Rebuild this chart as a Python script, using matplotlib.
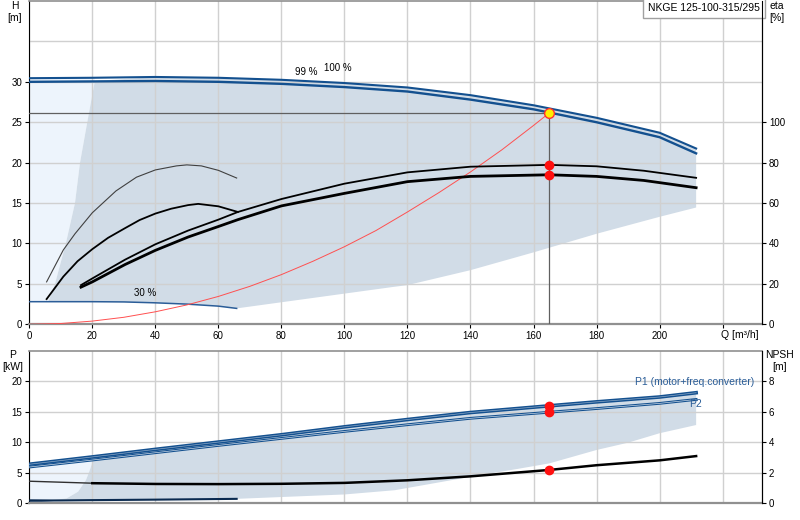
import matplotlib
matplotlib.use('Agg')
import matplotlib.pyplot as plt
import numpy as np

plt.rcParams['font.family'] = ['Liberation Sans', 'DejaVu Sans']
plt.rcParams['font.size'] = 7

BLUE = '#13508f'
GRAY_FILL = '#d1dce7'
LIGHT_FILL = '#edf4fc'
GRID = '#d0d0d0'

# ---- upper chart data (Q in m3/h, H in m, eta in %) ----
q_max = [0, 20, 40, 60, 80, 100, 120, 140, 160, 180, 200, 211.6]
h_100 = [30.45, 30.5, 30.6, 30.5, 30.25, 29.85, 29.3, 28.35, 27.1, 25.55, 23.7, 21.75]
h_99 = [30.0, 30.05, 30.1, 30.0, 29.75, 29.35, 28.8, 27.8, 26.6, 25.0, 23.15, 21.15]

q_30 = [0, 6, 20, 30, 40, 50, 60, 65.8]
h_30 = [2.8, 2.8, 2.8, 2.77, 2.66, 2.5, 2.25, 1.97]

q_left = [6.0, 8.15, 11.6, 14.5, 16.1, 18.4, 20.8]
h_left = [2.8, 5.0, 10.0, 15.0, 20.0, 25.0, 30.1]

q_low = [65.8, 115, 120, 140, 160, 180, 200, 211.6]
h_low = [1.97, 4.6, 4.85, 6.7, 8.9, 11.2, 13.3, 14.45]

q_sys = [0, 10, 20, 30, 40, 50, 60, 70, 80, 90, 100, 110, 120, 130, 140, 150, 160, 165]
h_sys = [0, 0.1, 0.4, 0.87, 1.55, 2.4, 3.45, 4.7, 6.15, 7.8, 9.6, 11.6, 13.9, 16.3, 18.85, 21.6, 24.6, 26.15]

q_eta30 = [5.5, 10.8, 14.5, 20, 27.5, 34, 40, 46.7, 50, 54.6, 60, 65.8]
eta30_pump = [21, 36.8, 44.8, 55.2, 66, 72.8, 76.4, 78.4, 78.9, 78.4, 76.2, 72.4]
q_eta30t = [5.5, 10.8, 15.3, 20, 25, 30.4, 35, 40, 45, 50.4, 53.6, 60, 66.2]
eta30_total = [12.5, 23.6, 31.2, 37.2, 42.8, 47.6, 51.6, 54.8, 57.2, 59, 59.6, 58.4, 55.6]

q_eta = [16.4, 20, 30.4, 40, 50.4, 60, 66.2, 80, 100, 120, 140, 165, 180, 195, 211.6]
eta_pump = [19.4, 22.7, 32, 39.6, 46.4, 51.8, 55.6, 62.0, 69.6, 75.2, 78.0, 78.9, 78.2, 76, 72.5]
eta_total = [18.4, 21, 29.6, 36.6, 43.2, 48.4, 51.8, 58.6, 64.8, 70.6, 73.2, 74, 73.2, 71.2, 67.6]

q_op = 165
h_op = 26.15
eta_op = [78.9, 74.0]

# ---- lower chart data (P in kW, NPSH in m) ----
q_p = [0, 20, 40, 60, 80, 100, 120, 140, 165, 180, 200, 211.6]
p1 = [6.36, 7.56, 8.8, 10.0, 11.2, 12.5, 13.7, 14.85, 15.95, 16.6, 17.4, 18.1]
p2 = [5.9, 7.05, 8.25, 9.45, 10.6, 11.75, 12.85, 13.9, 14.9, 15.5, 16.35, 17.0]

q_p30 = [0, 10, 20, 40, 65.8]
p_30 = [0.4, 0.42, 0.47, 0.55, 0.68]

q_pleft = [6.6, 11.9, 15.5, 18.0, 19.2, 20.1, 20.4]
p_left = [0.4, 0.77, 1.86, 3.78, 5.4, 6.8, 7.6]

q_plow = [65.8, 81, 100, 116, 140, 155, 165, 180, 190, 200, 211.6]
p_low = [0.68, 1.0, 1.4, 2.1, 4.3, 5.6, 6.5, 8.7, 9.9, 11.45, 12.8]

q_npsh = [0, 20, 40, 60, 80, 100, 120, 140, 165, 180, 200, 211.6]
npsh = [1.43, 1.30, 1.25, 1.24, 1.26, 1.32, 1.49, 1.75, 2.17, 2.48, 2.8, 3.08]

p_op = [15.95, 14.9]
npsh_op = 2.17


def style_axes(a, yticks):
    a.set_xlim(0, 232.5)
    a.set_xticks(np.arange(0, 221, 20))
    a.set_yticks(yticks)
    a.grid(True, color=GRID, linewidth=1)
    a.set_axisbelow('line')
    a.tick_params(axis='both', labelsize=7, length=3, width=0.8, pad=2)
    a.spines['left'].set_color('black')
    a.spines['top'].set_color('#909090')
    a.spines['bottom'].set_color('#909090')
    a.spines['bottom'].set_linewidth(1.6)
    a.spines['top'].set_linewidth(1.2)


fig = plt.figure(figsize=(8, 5.2), dpi=100)

# ================= upper chart =================
ax = fig.add_axes([0.0366, 0.3763, 0.9159, 0.6218])
ax.set_ylim(0, 40)
style_axes(ax, np.arange(0, 31, 5))
ax.axhline(35, color=GRID, lw=1, zorder=1.5)
ax.set_xticklabels([str(v) for v in range(0, 201, 20)] + [''])

top_left = np.interp(q_left[-1], q_max, h_100)
ax.fill([0, 0, q_left[-1]] + q_left[::-1], [h_30[0], h_100[0], top_left] + h_left[::-1],
        color=LIGHT_FILL, lw=0, zorder=1)

sel = [i for i, q in enumerate(q_max) if q > q_left[-1]]
poly_q = q_left + [q_max[i] for i in sel] + [q_low[-1]] + q_low[::-1][1:] + [q for q in q_30[::-1] if q > q_left[0]] + [q_left[0]]
poly_h = h_left + [h_100[i] for i in sel] + [h_low[-1]] + h_low[::-1][1:] + [h for q, h in zip(q_30[::-1], h_30[::-1]) if q > q_left[0]] + [h_left[0]]
ax.fill(poly_q, poly_h, color=GRAY_FILL, lw=0, zorder=1)

ax.plot(q_max, h_100, color=BLUE, lw=1.5, zorder=3)
ax.plot(q_max, h_99, color=BLUE, lw=1.7, zorder=3)
ax.plot(q_30, h_30, color='#2b5d98', lw=1.1, zorder=3)

ax.plot(q_sys, h_sys, color='#ff5050', lw=0.7, zorder=3)
ax.plot([0, q_op], [h_op, h_op], color='#606060', lw=0.9, zorder=3)
ax.plot([q_op, q_op], [0, h_op], color='#606060', lw=0.9, zorder=3)
ax.plot([q_op], [h_op], 'o', ms=7, mfc='#ffee00', mec='#ff3030', mew=1, zorder=6)

ax.text(88, 31.2, '99 %', ha='center', va='center', fontsize=7)
ax.text(98, 31.7, '100 %', ha='center', va='center', fontsize=7)
ax.text(36.7, 3.9, '30 %', ha='center', va='center', fontsize=7)

ax.text(0.997, 0.993, 'NKGE 125-100-315/295', transform=ax.transAxes, ha='right', va='top',
        fontsize=7.5, zorder=10,
        bbox=dict(boxstyle='square,pad=0.5', fc='white', ec='#a0a0a0', lw=1))

ax2 = ax.twinx()
ax2.set_ylim(0, 160)
ax2.set_yticks(np.arange(0, 101, 20))
ax2.tick_params(axis='y', labelsize=7, length=3, width=0.8, pad=2)
ax2.spines['right'].set_color('black')
for s in ['top', 'bottom', 'left']:
    ax2.spines[s].set_visible(False)
ax2.plot(q_eta30, eta30_pump, color='#404040', lw=0.8)
ax2.plot(q_eta30t, eta30_total, color='black', lw=1.3)
ax2.plot(q_eta, eta_pump, color='black', lw=1.3)
ax2.plot(q_eta, eta_total, color='black', lw=2.0)
ax2.plot([q_op, q_op], eta_op, 'o', ms=6, color='#ff1010', zorder=5)

# ================= lower chart =================
axb = fig.add_axes([0.0366, 0.0327, 0.9159, 0.2929])
axb.set_ylim(0, 25)
style_axes(axb, np.arange(0, 21, 5))
axb.set_xticklabels([])
axb.tick_params(axis='x', length=0)

top_pl = np.interp(q_pleft[-1], q_p, p2)
axb.fill([0, 0, q_pleft[-1]] + q_pleft[::-1], [p_30[0], p2[0], top_pl] + p_left[::-1],
         color=LIGHT_FILL, lw=0, zorder=1)

selp = [i for i, q in enumerate(q_p) if q > q_pleft[-1]]
pq = q_pleft + [q_p[i] for i in selp] + [q_plow[-1]] + q_plow[::-1][1:] + [q for q in q_p30[::-1] if q > q_pleft[0]] + [q_pleft[0]]
pp = p_left + [p1[i] for i in selp] + [p_low[-1]] + p_low[::-1][1:] + [p for q, p in zip(q_p30[::-1], p_30[::-1]) if q > q_pleft[0]] + [p_left[0]]
axb.fill(pq, pp, color=GRAY_FILL, lw=0, zorder=1)
axb.fill([0, 0, 10], [0, p_30[0] + 0.25, p_30[1]], color='#8496ae', lw=0, zorder=2)

axb.plot(q_p, p1, color=BLUE, lw=2.6, zorder=3)
axb.plot(q_p, p1, color='#8fa9c6', lw=0.5, zorder=3)
axb.plot(q_p, p2, color=BLUE, lw=2.0, zorder=3)
axb.plot(q_p, p2, color='#c9d6e4', lw=0.5, zorder=3)
axb.plot(q_p30, p_30, color='#0a2a50', lw=1.5, zorder=3)
axb.plot([q_op, q_op], p_op, 'o', ms=6, color='#ff1010', zorder=5)

axb.text(211.2, 19.8, 'P1 (motor+freq.converter)', color='#2a5d98', ha='center', va='center', fontsize=7.5)
axb.text(211.3, 16.2, 'P2', color='#2a5d98', ha='center', va='center', fontsize=7.5)

axb2 = axb.twinx()
axb2.set_ylim(0, 10)
axb2.set_yticks(np.arange(0, 9, 2))
axb2.tick_params(axis='y', labelsize=7, length=3, width=0.8, pad=2)
axb2.spines['right'].set_color('black')
for s in ['top', 'bottom', 'left']:
    axb2.spines[s].set_visible(False)
axb2.plot(q_npsh[:2], npsh[:2], color='#303030', lw=1.0)
axb2.plot(q_npsh[1:], npsh[1:], color='black', lw=1.8)
axb2.plot([q_op], [npsh_op], 'o', ms=6, color='#ff1010', zorder=5)

# axis captions
fig.text(15 / 800, 1 - 6 / 520, 'H', ha='center', va='center', fontsize=7.5)
fig.text(15 / 800, 1 - 18 / 520, '[m]', ha='center', va='center', fontsize=7.5)
fig.text(777 / 800, 1 - 6 / 520, 'eta', ha='center', va='center', fontsize=7.5)
fig.text(777 / 800, 1 - 18 / 520, '[%]', ha='center', va='center', fontsize=7.5)
fig.text(740 / 800, 1 - 335 / 520, 'Q [m³/h]', ha='center', va='center', fontsize=7.5)
fig.text(13 / 800, 1 - 355 / 520, 'P', ha='center', va='center', fontsize=7.5)
fig.text(13 / 800, 1 - 367 / 520, '[kW]', ha='center', va='center', fontsize=7.5)
fig.text(780 / 800, 1 - 355 / 520, 'NPSH', ha='center', va='center', fontsize=7.5)
fig.text(780 / 800, 1 - 367 / 520, '[m]', ha='center', va='center', fontsize=7.5)

fig.savefig('out.png', dpi=100)
